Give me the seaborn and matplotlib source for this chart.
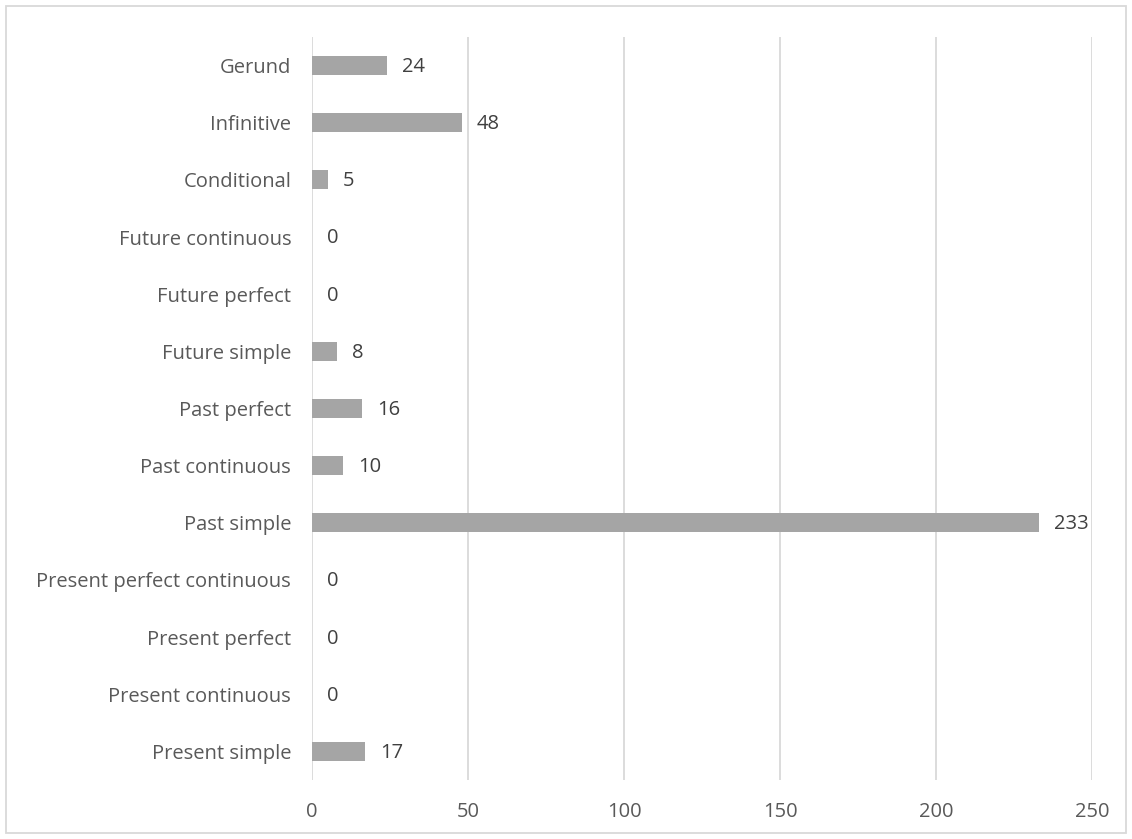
import matplotlib
matplotlib.use("Agg")
import matplotlib.pyplot as plt
import seaborn as sns
import pandas as pd

categories = ["Gerund", "Infinitive", "Conditional", "Future continuous", "Future perfect",
              "Future simple", "Past perfect", "Past continuous", "Past simple",
              "Present perfect continuous", "Present perfect", "Present continuous",
              "Present simple"]
values = [24, 48, 5, 0, 0, 8, 16, 10, 233, 0, 0, 0, 17]
x_ticks = [0, 50, 100, 150, 200, 250]

sns.set_theme(style="white")
plt.rcParams['font.family'] = ['Open Sans', 'DejaVu Sans']

df = pd.DataFrame({"category": categories, "value": values})

fig = plt.figure(figsize=(11.32, 8.39), dpi=100)
ax = fig.add_axes([312/1132, 1-780/839, 780/1132, (780-37)/839])

sns.barplot(data=df, y="category", x="value", color="#A5A5A5", saturation=1,
            width=0.33, ax=ax, orient="h", linewidth=0)

ax.set_xlim(0, 250)
ax.set_ylim(len(categories)-0.5, -0.5)
ax.set_xticks(x_ticks)
ax.set_xticklabels([str(t) for t in x_ticks])
ax.set_xlabel("")
ax.set_ylabel("")
ax.grid(axis="x", color="#D9D9D9", linewidth=1.3)
ax.set_axisbelow(True)
for s in ax.spines.values():
    s.set_visible(False)
ax.tick_params(axis="both", length=0, colors="#595959", labelsize=14.5)
ax.tick_params(axis="y", pad=15)
ax.tick_params(axis="x", pad=16)

for i, v in enumerate(values):
    ax.annotate(str(v), xy=(v, i), xytext=(11, -1), textcoords="offset points",
                ha="left", va="center", fontsize=14.5, color="#404040")

border = plt.Rectangle((6/1132, 6/839), 1-12/1132, 1-12/839, transform=fig.transFigure,
                       fill=False, edgecolor="#D9D9D9", linewidth=1.3)
fig.patches.append(border)

fig.savefig("out.png", dpi=100)
